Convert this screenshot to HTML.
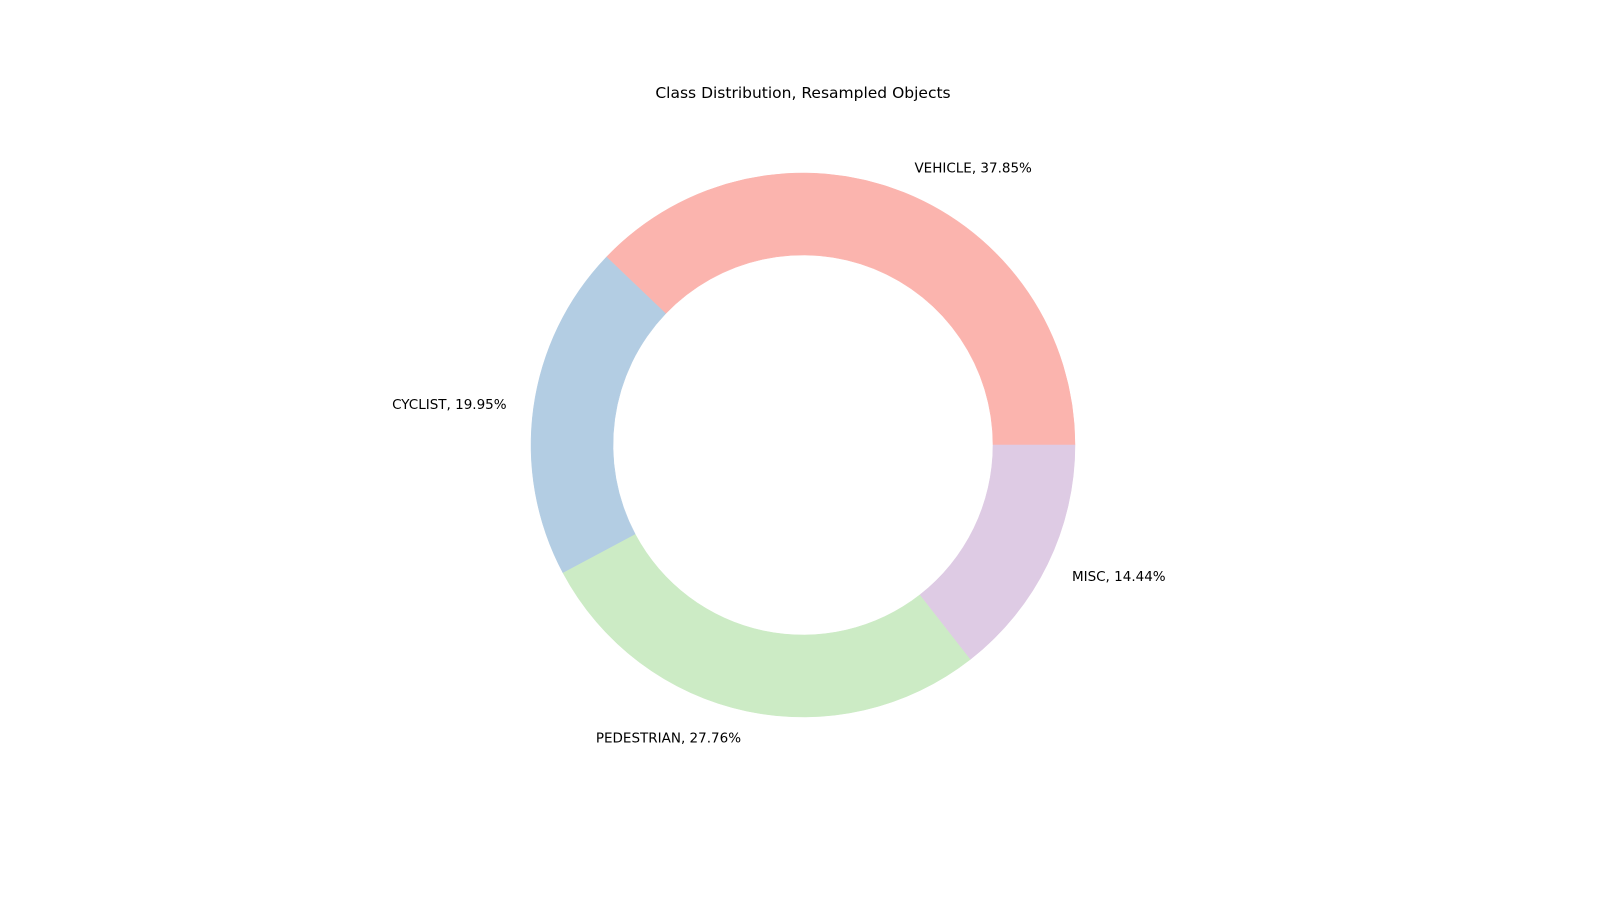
<!DOCTYPE html>
<html><head><meta charset="utf-8"><style>
html,body{margin:0;padding:0;background:#fff;}
svg text{font-family:"DejaVu Sans","Liberation Sans",sans-serif;fill:#000;}
</style></head><body>
<svg id="chart" width="1600" height="900" viewBox="0 0 1600 900">
<text x="803" y="98" text-anchor="middle" font-size="15.5">Class Distribution, Resampled Objects</text>
<g id="slices"></g>
<g id="labels"></g>
</svg>
<script>
const categories = ["VEHICLE", "CYCLIST", "PEDESTRIAN", "MISC"];
const values = [37.85, 19.95, 27.76, 14.44];
const colors = ["#fbb4ae", "#b3cde3", "#ccebc5", "#decbe4"];
const cx = 803, cy = 445, R = 272, r = 190, labelR = 1.1 * 272;
const NS = "http://www.w3.org/2000/svg";
const total = values.reduce((a, b) => a + b, 0);
const sg = document.getElementById('slices'), lg = document.getElementById('labels');
function pt(rad, deg) { const a = deg * Math.PI / 180; return [cx + rad * Math.cos(a), cy - rad * Math.sin(a)]; }
let start = 0;
values.forEach((v, i) => {
  const sweep = v / total * 360, end = start + sweep;
  const large = sweep > 180 ? 1 : 0;
  const [x1, y1] = pt(R, start), [x2, y2] = pt(R, end), [x3, y3] = pt(r, end), [x4, y4] = pt(r, start);
  const p = document.createElementNS(NS, 'path');
  p.setAttribute('d', `M${x1},${y1} A${R},${R} 0 ${large} 0 ${x2},${y2} L${x3},${y3} A${r},${r} 0 ${large} 1 ${x4},${y4} Z`);
  p.setAttribute('fill', colors[i]);
  p.setAttribute('stroke', colors[i]);
  p.setAttribute('stroke-width', '0.5');
  
  
  sg.appendChild(p);
  const mid = start + sweep / 2;
  const [lx, ly] = pt(labelR, mid);
  const t = document.createElementNS(NS, 'text');
  t.setAttribute('x', lx);
  t.setAttribute('y', ly + 5);
  t.setAttribute('font-size', '13.5');
  t.setAttribute('text-anchor', Math.cos(mid * Math.PI / 180) >= 0 ? 'start' : 'end');
  t.textContent = categories[i] + ', ' + v.toFixed(2) + '%';
  
  
  lg.appendChild(t);
  start = end;
});
</script>
</body></html>
